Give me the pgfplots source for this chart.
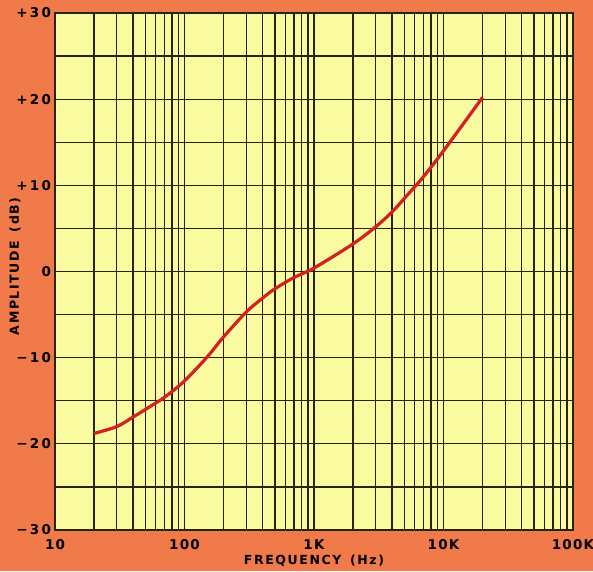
\documentclass[border=0pt]{standalone}
\usepackage{pgfplots}
\pgfplotsset{compat=1.18}
\usepackage{fontspec}
\setmainfont{DejaVu Sans}
\newcommand\sk{\kern1.6pt}
\newcommand\yk{\kern2.2pt}
\newcommand\xk{\kern1.2pt}
\definecolor{bgorange}{RGB}{240,122,74}
\definecolor{paper}{RGB}{250,250,160}
\definecolor{gridc}{RGB}{40,36,12}
\definecolor{curve}{RGB}{212,32,32}
\begin{document}
\begin{tikzpicture}[x=1pt,y=1pt]
\fill[bgorange] (0,0) rectangle (593,571);
\begin{axis}[
  at={(55pt,41pt)}, anchor=south west,
  scale only axis, width=518pt, height=517pt,
  xmode=log, log basis x=10,
  xmin=10, xmax=100000, ymin=-30, ymax=30,
  axis background/.style={fill=paper},
  axis line style={gridc, line width=1.8pt},
  xtick={10,100,1000,10000,100000},
  xticklabels={1\xk 0,1\xk 0\xk 0,1\xk K,1\xk 0\xk K,1\xk 0\xk 0\xk K},
  minor xtick={20,30,40,50,60,70,80,90,200,300,400,500,600,700,800,900,2000,3000,4000,5000,6000,7000,8000,9000,20000,30000,40000,50000,60000,70000,80000,90000},
  ytick={-30,-20,-10,0,10,20,30},
  yticklabels={−\yk 3\yk 0,−\yk 2\yk 0,−\yk 1\yk 0,0,+\yk 1\yk 0,+\yk 2\yk 0,+\yk 3\yk 0},
  minor ytick={-25,-15,-5,5,15,25},
  grid=both,
  major grid style={gridc, line width=1.3pt},
  minor grid style={gridc, line width=1.3pt},
  major tick length=0pt, minor tick length=0pt,
  tick label style={font=\bfseries\fontsize{13.5}{15}\selectfont},
  xticklabel style={yshift=-6pt},
  yticklabel style={xshift=-0.5pt},
  xlabel={\bfseries\fontsize{12.5}{14}\selectfont F\sk R\sk E\sk Q\sk U\sk E\sk N\sk C\sk Y\ \ (\sk H\sk z\sk )},
  ylabel={\bfseries\fontsize{12.5}{14}\selectfont A\sk M\sk P\sk L\sk I\sk T\sk U\sk D\sk E\ \ (\sk d\sk B\sk )},
  xlabel style={at={(axis description cs:0.5,0)}, anchor=center, yshift=-31pt},
  ylabel style={at={(axis description cs:0,0.51)}, anchor=center, yshift=40pt},
]
\addplot[curve, line width=3.2pt, smooth] coordinates {
(20,-18.8) (30,-18.0) (40,-16.9) (50,-16.0) (70,-14.6) (100,-12.7)
(150,-9.9) (200,-7.6) (300,-4.7) (400,-3.1) (500,-2.0) (700,-0.7)
(1000,0.4) (2000,3.2) (3000,5.2) (4000,6.9) (5000,8.5) (7000,11.0)
(10000,14.0) (20000,20.2)
};
\end{axis}
\pgfresetboundingbox
\path (0,0) rectangle (593,571);
\end{tikzpicture}
\end{document}
